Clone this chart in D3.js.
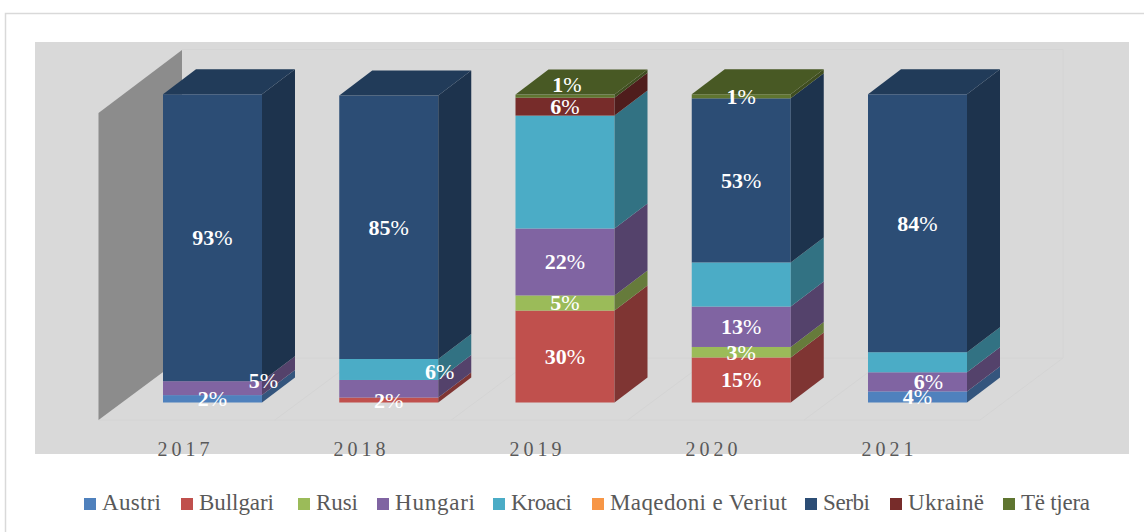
<!DOCTYPE html>
<html><head><meta charset="utf-8">
<script src="https://cdnjs.cloudflare.com/ajax/libs/d3/7.8.5/d3.min.js"></script>
<style>html,body{margin:0;padding:0;background:#fff}svg{display:block}text{font-family:"Liberation Serif",serif}</style>
</head><body><svg id="c" width="1144" height="532"></svg>
<script>
const years=["2017","2018","2019","2020","2021"];
const seriesNames=["Austri","Bullgari","Rusi","Hungari","Kroaci","Maqedoni e Veriut","Serbi","Ukrainë","Të tjera"];
const seriesColors=["#4f81bd","#c0504d","#9bbb59","#8064a2","#4bacc6","#f79646","#2c4d75","#772c2a","#5f7530"];
const austri=[2.4,0,0,0,3.6];
const bullgari=[0,1.6,29.8,14.6,0];
const rusi=[0,0,4.9,3.4,0];
const hungari=[4.5,5.7,21.7,13.1,6.2];
const kroaci=[0,6.8,36.6,14.3,6.5];
const maqedoni=[0,0,0,0,0];
const serbi=[93,85.4,0,53.2,83.6];
const ukraine=[0,0,5.8,0,0];
const tjera=[0,0,1,1.3,0];
const allSeries=[austri,bullgari,rusi,hungari,kroaci,maqedoni,serbi,ukraine,tjera];
// printed labels per series and year (null = no label shown)
const labelAustri=["2%",null,null,null,"4%"];
const labelBullgari=[null,"2%","30%","15%",null];
const labelRusi=[null,null,"5%","3%",null];
const labelHungari=["5%",null,"22%","13%","6%"];
const labelKroaci=[null,"6%",null,null,null];
const labelMaqedoni=[null,null,null,null,null];
const labelSerbi=["93%","85%",null,"53%","84%"];
const labelUkraine=[null,null,"6%",null,null];
const labelTjera=[null,null,"1%","1%",null];
const allLabels=[labelAustri,labelBullgari,labelRusi,labelHungari,labelKroaci,labelMaqedoni,labelSerbi,labelUkraine,labelTjera];

const svg=d3.select("#c");
svg.append("rect").attr("x",5.5).attr("y",13.5).attr("width",1150).attr("height",530).attr("fill","#fff").attr("stroke","#d9d9d9").attr("stroke-width",1.5);
svg.append("rect").attr("x",35).attr("y",42).attr("width",1094).attr("height",412).attr("fill","#d9d9d9");

const x=d3.scaleBand().domain(years).range([163,967]).paddingInner(1-99/176.25).paddingOuter(0);
const y=d3.scaleLinear().domain([0,100]).range([402.5,94]);
const dx=33,dy=25;
const wallDx=83.5,wallDy=62;
const floorY=420,backX=182;

// floor / wall hairlines
const hair="#d4d4d4";
const line=(a,b,c,d)=>svg.append("line").attr("x1",a).attr("y1",b).attr("x2",c).attr("y2",d).attr("stroke",hair).attr("stroke-width",1);
line(backX,49.5,1063,49.5);line(1063,49.5,1063,358);line(backX,358,1063,358);
line(98.5,floorY,980,floorY);line(980,floorY,1063,358);
years.forEach((yr,i)=>{
  if(i===0)return;
  const fx=98.5+i*176.4;
  line(fx,floorY,fx+wallDx,floorY-wallDy);
});
// side wall
svg.append("polygon").attr("points",[[98.5,113],[backX,50],[backX,358],[98.5,420]].join(" ")).attr("fill","#8c8c8c");

const shade=(c,k)=>{const r=d3.rgb(c);return d3.rgb(r.r*k,r.g*k,r.b*k).formatHex();};
const labels=[];
years.forEach((yr,j)=>{
  let cum=0;
  const bx=x(yr),bw=x.bandwidth();
  const segs=[];
  allSeries.forEach((s,i)=>{
    const v=s[j];
    if(v>0){segs.push({i,y0:cum,y1:cum+v});cum+=v;}
  });
  const g=svg.append("g");
  segs.forEach(sg=>{
    const c=seriesColors[sg.i];
    g.append("rect").attr("x",bx).attr("y",y(sg.y1)).attr("width",bw).attr("height",y(sg.y0)-y(sg.y1)).attr("fill",c);
    g.append("polygon").attr("points",[[bx+bw,y(sg.y0)],[bx+bw+dx,y(sg.y0)-dy],[bx+bw+dx,y(sg.y1)-dy],[bx+bw,y(sg.y1)]].join(" ")).attr("fill",shade(c,0.66));
    const lab=allLabels[sg.i][j];
    if(lab)labels.push({lab,yr,name:seriesNames[sg.i],cx:bx+bw/2,cy:y((sg.y0+sg.y1)/2)});
  });
  const top=segs[segs.length-1];
  g.append("polygon").attr("points",[[bx,y(top.y1)],[bx+dx,y(top.y1)-dy],[bx+bw+dx,y(top.y1)-dy],[bx+bw,y(top.y1)]].join(" ")).attr("fill",shade(seriesColors[top.i],0.76));
});
// hand-placed data-label offsets from the reference
const labelNudge={"2017|Hungari":[51,-8],"2018|Kroaci":[51,2],"2019|Të tjera":[2,-12],"2021|Hungari":[11,0]};
labels.forEach(l=>{
  const n=labelNudge[l.yr+"|"+l.name]||[0,0];
  const t=svg.append("text").attr("x",l.cx+n[0]).attr("y",l.cy+n[1]).attr("dy","0.34em").attr("text-anchor","middle").attr("fill","#fff").attr("font-size",22);
  t.append("tspan").attr("font-weight",700).text(l.lab.replace("%",""));
  t.append("tspan").attr("font-weight",400).text("%");
});
// category axis
const xAxis=d3.axisBottom(d3.scalePoint().domain(years).range([185,889])).tickSize(0);
const axG=svg.append("g").attr("transform","translate(0,437)").call(xAxis);
axG.select(".domain").remove();
axG.selectAll("text").attr("y",0).attr("dy","0.95em").attr("font-size",20).attr("fill","#595959").attr("letter-spacing",4).style("font-family",'"Liberation Serif",serif');

// legend
const legendX=[84,181,298,377,493,592,805,890,1003];
const legendW=[59,75,42,80,61,177,47,76,69];
const lg=svg.append("g");
seriesNames.forEach((n,i)=>{
  lg.append("rect").attr("x",legendX[i]).attr("y",498).attr("width",12).attr("height",12).attr("fill",seriesColors[i]);
  lg.append("text").attr("x",legendX[i]+18).attr("y",510).attr("font-size",23).attr("textLength",legendW[i]).attr("lengthAdjust","spacing").attr("fill","#595959").text(n);
});
</script></body></html>
